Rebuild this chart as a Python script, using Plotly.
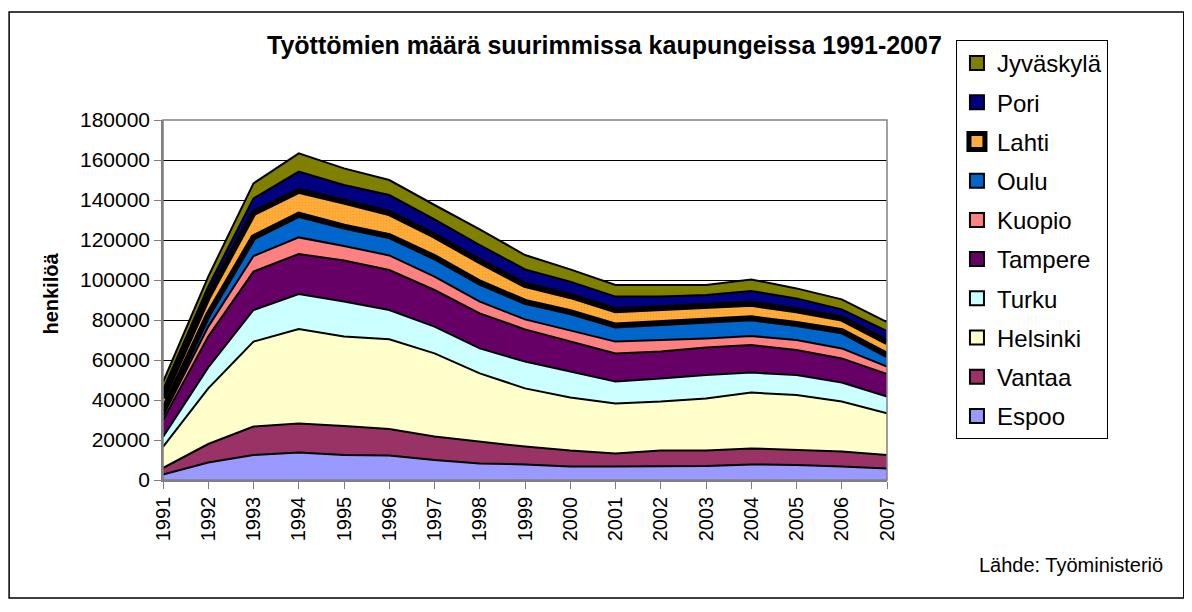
import numpy as np
import plotly.graph_objects as go

years = [1991, 1992, 1993, 1994, 1995, 1996, 1997, 1998, 1999,
         2000, 2001, 2002, 2003, 2004, 2005, 2006, 2007]

espoo = [2700, 8700, 12500, 13800, 12500, 12300, 10000, 8300, 7800,
         6700, 6700, 6700, 7000, 7800, 7500, 6700, 5800]
vantaa = [3300, 9300, 14200, 14500, 14500, 13200, 11700, 10900, 8900,
          8000, 6600, 8000, 7700, 8000, 7500, 7500, 6700]
helsinki = [10500, 27800, 42500, 47200, 44700, 44900, 41600, 34100, 29100,
            26600, 25000, 24500, 26100, 27900, 27500, 25000, 20800]
turku = [5000, 10500, 15800, 17500, 17500, 14600, 13400, 12500, 13400,
         12900, 10900, 11600, 11700, 10000, 10000, 9500, 8400]
tampere = [8500, 15400, 19200, 20000, 20500, 20000, 18300, 17500, 16100,
           15000, 14100, 13400, 13800, 13800, 12500, 12100, 11300]
kuopio = [2000, 5000, 7800, 8300, 7300, 7300, 6700, 5900, 5000,
          5500, 5900, 5800, 4500, 4500, 5000, 5000, 3700]
oulu = [2500, 6000, 9300, 11300, 9700, 9700, 9700, 9500, 8800,
        9200, 8000, 8500, 8350, 8850, 8000, 8600, 5800]
lahti = [6500, 9000, 12200, 12000, 12500, 11500, 10800, 10700, 8400,
         8100, 7700, 7400, 7500, 7250, 6800, 6300, 6500]
pori = [4000, 5000, 7300, 9600, 8300, 9000, 8100, 8100, 7800,
        7200, 6800, 5800, 5850, 6400, 6000, 4600, 5500]
jyvaskyla = [4000, 5000, 7500, 9100, 8300, 7500, 7200, 7800, 7200,
             6100, 5800, 5800, 5000, 5800, 5000, 5000, 4500]

cities = ["Espoo", "Vantaa", "Helsinki", "Turku", "Tampere",
          "Kuopio", "Oulu", "Lahti", "Pori", "Jyväskylä"]
series = [espoo, vantaa, helsinki, turku, tampere,
          kuopio, oulu, lahti, pori, jyvaskyla]
colors = ["#9999FF", "#993366", "#FFFFCC", "#CCFFFF", "#660066",
          "#FF8080", "#0066CC", "#FFAD3B", "#000080", "#808000"]

y_ticks = [0, 20000, 40000, 60000, 80000, 100000, 120000, 140000, 160000, 180000]
y_ticktext = [str(v) for v in y_ticks]
x_ticktext = [str(y) for y in years]

title_text = "Työttömien määrä suurimmissa kaupungeissa 1991-2007"
y_title = "henkilöä"
source_text = "Lähde: Työministeriö"

FONT = "Arial, Liberation Sans, sans-serif"

fig = go.Figure()

for name, vals, col in zip(cities, series, colors):
    kw = {}
    if name == "Lahti":
        kw["fillpattern"] = dict(shape=".", bgcolor="#FFAD3B", fgcolor="#F39424",
                                 size=3, solidity=0.3)
    fig.add_trace(go.Scatter(
        x=years, y=vals, name=name, mode="lines", stackgroup="one",
        fillcolor=col, line=dict(color="black", width=2),
        showlegend=False, hoverinfo="skip", **kw))

# thick black edges of the Lahti band
cum = np.cumsum(np.array(series), axis=0)
for idx in (6, 7):
    fig.add_trace(go.Scatter(
        x=years, y=cum[idx], mode="lines", line=dict(color="black", width=6),
        showlegend=False, hoverinfo="skip"))

# legend entries (top to bottom: Jyväskylä ... Espoo)
for name, col in reversed(list(zip(cities, colors))):
    if name == "Lahti":
        mk = dict(symbol="square", size=16, color="#FFAD3B",
                  line=dict(color="black", width=5))
    else:
        mk = dict(symbol="square", size=14, color=col,
                  line=dict(color="black", width=2))
    fig.add_trace(go.Scatter(
        x=[None], y=[None], mode="markers", name=name, marker=mk,
        legendgroup=name, showlegend=True))

# page body has an 8px margin: work in screen coords, shift by 8
OFF = 8
W, H = 1192 - 2 * OFF, 612 - 2 * OFF
L, R, T, B = 162.5 - OFF, 887 - OFF, 120 - OFF, 480 - OFF
pw, ph = R - L, B - T

def px(x):
    return (x - OFF - L) / pw

def py(y):
    return (B - (y - OFF)) / ph

fig.update_layout(
    width=W, height=H,
    margin=dict(l=L, r=W - R, t=T, b=H - B, pad=0),
    paper_bgcolor="white", plot_bgcolor="white",
    font=dict(family=FONT, color="black"),
    showlegend=True,
    legend=dict(
        x=px(956), y=py(40), xanchor="left", yanchor="top",
        font=dict(size=24, family=FONT),
        bordercolor="black", borderwidth=1, bgcolor="white",
        traceorder="grouped", tracegroupgap=5, itemsizing="trace",
        maxheight=560,
    ),
    xaxis=dict(
        range=[1991, 2007], tickmode="array", tickvals=years, ticktext=x_ticktext,
        tickangle=-90, tickfont=dict(size=20), ticks="outside", ticklen=7,
        tickcolor="#808080", showline=True, linecolor="#808080", linewidth=1.5,
        showgrid=False, zeroline=False, fixedrange=True,
    ),
    yaxis=dict(
        range=[0, 180000], tickmode="array", tickvals=y_ticks, ticktext=y_ticktext,
        tickfont=dict(size=21), ticks="outside", ticklen=7, tickcolor="#808080",
        showline=True, linecolor="#808080", linewidth=1.5,
        showgrid=True, gridcolor="black", gridwidth=1, zeroline=False,
        fixedrange=True,
    ),
    shapes=[
        dict(type="rect", xref="paper", yref="paper", x0=0, x1=1, y0=0, y1=1,
             line=dict(color="#808080", width=1.5), fillcolor="rgba(0,0,0,0)",
             layer="above"),
        dict(type="rect", xref="paper", yref="paper",
             x0=px(8.5), x1=px(1184), y0=py(598), y1=py(12),
             line=dict(color="black", width=1.5), fillcolor="rgba(0,0,0,0)"),
    ],
    annotations=[
        dict(text="<b>" + title_text + "</b>", xref="paper", yref="paper",
             x=px(604), y=py(45), xanchor="center", yanchor="middle",
             showarrow=False, font=dict(size=25, family=FONT)),
        dict(text="<b>" + y_title + "</b>", xref="paper", yref="paper",
             x=px(50), y=py(294), xanchor="center", yanchor="middle",
             textangle=-90, showarrow=False, font=dict(size=20, family=FONT)),
        dict(text=source_text, xref="paper", yref="paper",
             x=px(1165), y=py(565), xanchor="right", yanchor="middle",
             showarrow=False, font=dict(size=20, family=FONT)),
    ],
)

fig.write_html("out.html")
